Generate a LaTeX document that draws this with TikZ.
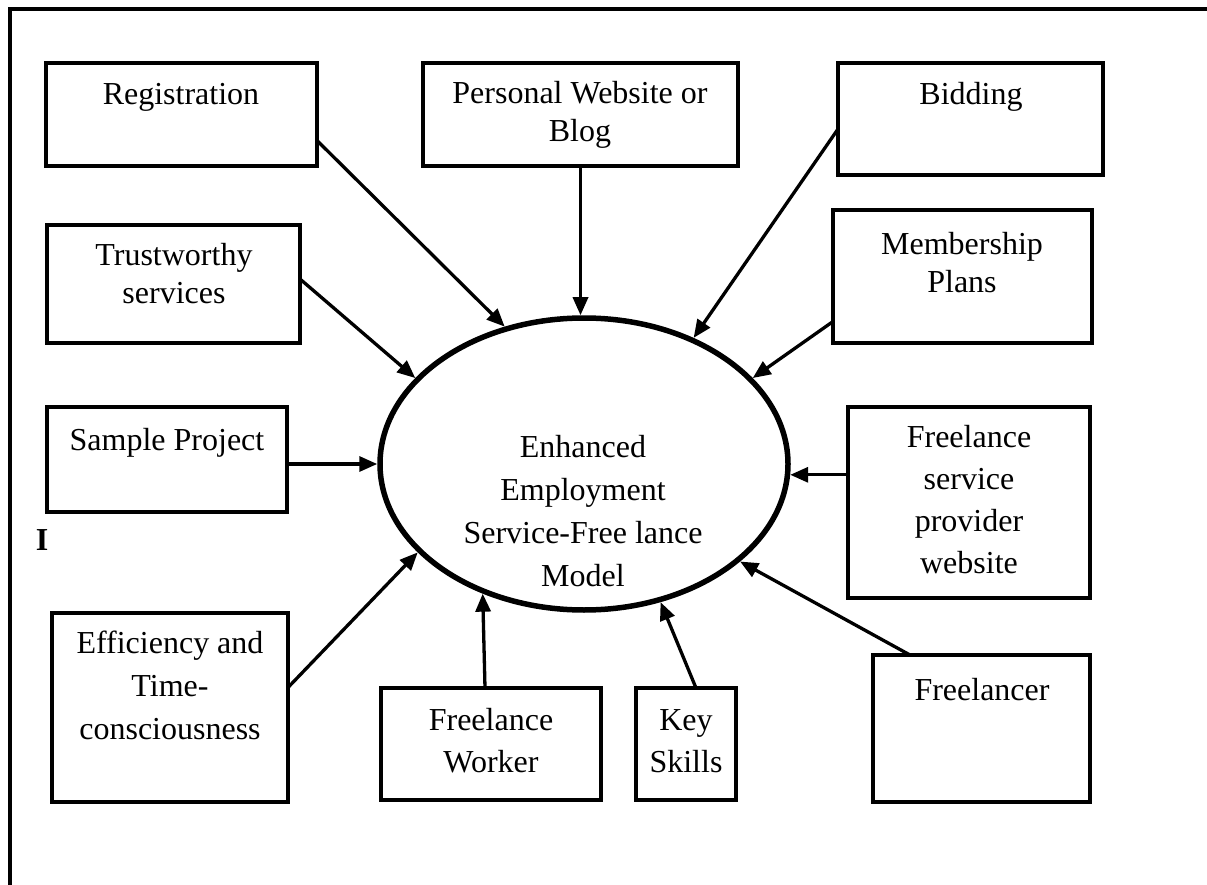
\documentclass[tikz,border=0pt]{standalone}
\usepackage{fontspec}
\setmainfont{Liberation Serif}
\usetikzlibrary{arrows.meta,shapes.geometric}
\begin{document}
\begin{tikzpicture}[x=1pt,y=-1pt,
  box/.style={draw, line width=4pt, inner sep=0pt, outer sep=0pt},
  txt/.style={font=\fontsize{32}{42}\selectfont, align=center, inner sep=0pt, anchor=base},
  tight/.style={font=\fontsize{32}{38}\selectfont},
  loose/.style={font=\fontsize{32}{43}\selectfont},
  arr/.style={line width=3.3pt, -{Triangle[length=18pt,width=15pt]}},
  ]
\useasboundingbox (0,0) rectangle (1207,885);
% outer frame
\coordinate (fb) at (10,885);
\coordinate (fc) at (10,9);
\coordinate (fr) at (1207,9);
\draw[line width=4pt] (fb) -- (fc) -- (fr);
\node[font=\fontsize{32}{42}\selectfont\bfseries, inner sep=0pt] (stray) at (42,540) {I};

% boxes
\node[box, minimum width=271pt, minimum height=103pt] (reg) at (181.5,114.5) {};
\node[box, minimum width=315pt, minimum height=103pt] (pw) at (580.5,114.5) {};
\node[box, minimum width=265pt, minimum height=112pt] (bid) at (970.5,119) {};
\node[box, minimum width=253pt, minimum height=118pt] (tw) at (173.5,284) {};
\node[box, minimum width=259pt, minimum height=133pt] (mem) at (962.5,276.5) {};
\node[box, minimum width=240pt, minimum height=105pt] (sp) at (167,459.5) {};
\node[box, minimum width=242pt, minimum height=191pt] (fsp) at (969,502.5) {};
\node[box, minimum width=236pt, minimum height=189pt] (eff) at (170,707.5) {};
\node[box, minimum width=220pt, minimum height=112pt] (fw) at (491,744) {};
\node[box, minimum width=100pt, minimum height=112pt] (ks) at (686,744) {};
\node[box, minimum width=217pt, minimum height=147pt] (fl) at (981.5,728.5) {};

% texts (base anchor = baseline of the last line)
\node[txt] (treg) at (181,105) {Registration};
\node[txt, tight] (tpw) at (580,142) {Personal Website or\\Blog};
\node[txt] (tbid) at (971,105) {Bidding};
\node[txt, tight] (ttw) at (174,303) {Trustworthy\\services};
\node[txt, tight] (tmem) at (962,293) {Membership\\Plans};
\node[txt] (tsp) at (167,450) {Sample Project};
\node[txt] (tfsp) at (969,573) {Freelance\\service\\provider\\website};
\node[txt, loose] (teff) at (170,739) {Efficiency and\\Time-\\consciousness};
\node[txt] (tfw) at (491,772) {Freelance\\Worker};
\node[txt] (tks) at (686,772) {Key\\Skills};
\node[txt] (tfl) at (982,700) {Freelancer};

% central ellipse
\node[ellipse, draw, line width=5.5pt, minimum width=408pt, minimum height=292pt, inner sep=0pt] (ell) at (584,464) {};
\node[txt, loose] (tell) at (583,586) {Enhanced\\Employment\\Service-Free lance\\Model};

% connectors
\draw[arr] ([yshift=-26pt]reg.east) -- (ell.120.5);
\draw[arr] (pw.south) -- (pw.south |- ell.north);
\draw[arr] ([yshift=-10pt]bid.west) -- (ell.49.6);
\draw[arr] ([yshift=5pt]tw.east) -- (ell.153.2);
\draw[arr] ([yshift=-45pt]mem.west) -- (ell.27.8);
\draw[arr] (sp.east |- ell.west) -- (ell.west);
\draw[arr] (fsp.west |- ell.-3) -- (ell.-3);
\draw[arr] ([yshift=20pt]eff.east) -- (ell.208.8);
\draw[arr] ([xshift=-6pt]fw.north) -- (ell.232.6);
\draw[arr] ([xshift=10pt]ks.north) -- (ell.299.8);
\draw[arr] ([xshift=-71.5pt]fl.north) -- (ell.328.7);
\end{tikzpicture}
\end{document}
